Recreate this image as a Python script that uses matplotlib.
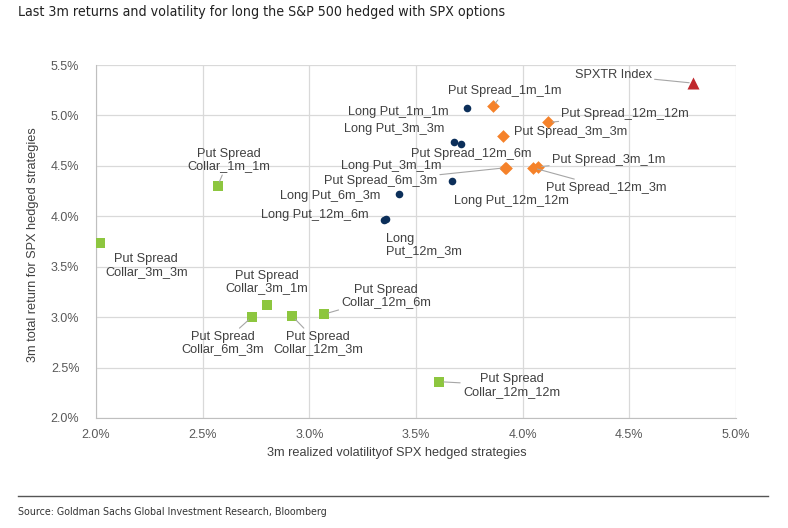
import matplotlib
matplotlib.use('Agg')
import matplotlib.pyplot as plt
from matplotlib import font_manager
from matplotlib.ticker import FuncFormatter

# 3m realized vol (%) and 3m total return (%) per hedged strategy
long_put_names = ['Long Put_1m_1m', 'Long Put_3m_3m', 'Long Put_3m_1m', 'Long Put_12m_12m',
                  'Long Put_6m_3m', 'Long Put_12m_6m', 'Long\nPut_12m_3m']
long_put_vol = [3.74, 3.68, 3.71, 3.67, 3.42, 3.36, 3.35]
long_put_ret = [5.07, 4.74, 4.72, 4.35, 4.22, 3.97, 3.96]

spread_names = ['Put Spread_1m_1m', 'Put Spread_12m_12m', 'Put Spread_3m_3m', 'Put Spread_12m_6m',
                'Put Spread_6m_3m', 'Put Spread_3m_1m', 'Put Spread_12m_3m']
spread_vol = [3.86, 4.12, 3.91, 3.92, 3.915, 4.07, 4.05]
spread_ret = [5.09, 4.93, 4.80, 4.48, 4.48, 4.49, 4.48]

collar_names = ['Put Spread\nCollar_1m_1m', 'Put Spread\nCollar_3m_3m', 'Put Spread\nCollar_3m_1m',
                'Put Spread\nCollar_6m_3m', 'Put Spread\nCollar_12m_3m', 'Put Spread\nCollar_12m_6m',
                'Put Spread\nCollar_12m_12m']
collar_vol = [2.57, 2.02, 2.80, 2.73, 2.92, 3.07, 3.61]
collar_ret = [4.30, 3.74, 3.12, 3.00, 3.01, 3.03, 2.36]

index_names = ['SPXTR Index']
index_vol = [4.80]
index_ret = [5.32]

# label offsets (pixels) and whether a leader line is drawn
long_put_off = [(-69, -4), (-60, 13), (-70, -22), (59, -20), (-69, -2), (-71, 4), (2, -25)]
long_put_lead = [False] * 7
spread_off = [(12, 15), (77, 8), (67, 4), (-34, 14), (-124, -13), (71, 7), (73, -20)]
spread_lead = [True, True, False, False, True, True, True]
collar_off = [(11, 26), (46, -23), (0, 23), (-29, -26), (26, -27), (62, 18), (72, -4)]
collar_lead = [True, False, False, True, True, True, True]
index_off = [(-80, 8)]
index_lead = [True]

txt_col = '#404040'
font = ['Liberation Sans', 'DejaVu Sans']
plt.rcParams['font.family'] = font

# condensed face for title / source, whatever is installed
installed = {(f.name, f.stretch) for f in font_manager.fontManager.ttflist}
names = {n for n, _ in installed}
if 'Liberation Sans Narrow' in names:
    narrow = dict(family=['Liberation Sans Narrow', 'DejaVu Sans'])
elif ('DejaVu Sans', 'condensed') in installed or ('DejaVu Sans', 'semi-condensed') in installed:
    narrow = dict(family=['DejaVu Sans'], fontstretch='condensed')
else:
    narrow = dict(family=font)

fig = plt.figure(figsize=(7.88, 5.28), dpi=100)
ax = fig.add_axes([96 / 788, 1 - 418 / 528, 640 / 788, 353 / 528])

ax.scatter(long_put_vol, long_put_ret, marker='o', s=30, color='#0c2f5a', zorder=3, linewidths=0)
ax.scatter(spread_vol, spread_ret, marker='D', s=42, color='#f5822a', zorder=3, linewidths=0)
ax.scatter(collar_vol, collar_ret, marker='s', s=62, color='#8dc63f', zorder=3, linewidths=0)
ax.scatter(index_vol, index_ret, marker='^', s=75, color='#c0282d', zorder=3, linewidths=0)


def label(names, xs, ys, offs, leads):
    for n, x, y, o, lead in zip(names, xs, ys, offs, leads):
        ha = 'left' if n.startswith('Long\n') else 'center'
        ap = dict(arrowstyle='-', color='#a6a6a6', lw=0.8, shrinkA=0, shrinkB=3) if lead else None
        ax.annotate(n, (x, y), xytext=o, textcoords='offset pixels', ha=ha, va='center',
                    multialignment='left' if ha == 'left' else 'center',
                    fontsize=9.2, color=txt_col, arrowprops=ap, linespacing=1.05, zorder=4)


label(long_put_names, long_put_vol, long_put_ret, long_put_off, long_put_lead)
label(spread_names, spread_vol, spread_ret, spread_off, spread_lead)
label(collar_names, collar_vol, collar_ret, collar_off, collar_lead)
label(index_names, index_vol, index_ret, index_off, index_lead)

ax.set_xlim(2.0, 5.0)
ax.set_ylim(2.0, 5.5)
ax.set_xticks([2.0, 2.5, 3.0, 3.5, 4.0, 4.5, 5.0])
ax.set_yticks([2.0, 2.5, 3.0, 3.5, 4.0, 4.5, 5.0, 5.5])
pct = FuncFormatter(lambda v, p: '%.1f%%' % v)
ax.xaxis.set_major_formatter(pct)
ax.yaxis.set_major_formatter(pct)
ax.tick_params(length=0, labelsize=9, labelcolor='#595959')
ax.tick_params(axis='y', pad=12)
ax.tick_params(axis='x', pad=8)
ax.grid(True, color='#d9d9d9', lw=0.9)
ax.set_axisbelow(True)
for s in ['top', 'right']:
    ax.spines[s].set_visible(False)
for s in ['left', 'bottom']:
    ax.spines[s].set_color('#bfbfbf')

ax.set_xlabel('3m realized volatilityof SPX hedged strategies', fontsize=9.2, color=txt_col)
ax.xaxis.set_label_coords((397 - 96) / 640, -(453 - 418) / 353)
ax.xaxis.label.set_va('center')
ax.set_ylabel('3m total return for SPX hedged strategies', fontsize=9.2, color=txt_col)
ax.yaxis.set_label_coords(-(96 - 33) / 640, (418 - 245) / 353)
ax.yaxis.label.set_va('center')

fig.text(18 / 788, 1 - 12 / 528, 'Last 3m returns and volatility for long the S&P 500 hedged with SPX options',
         fontsize=10.2, color='#222222', va='center', ha='left', **narrow)
fig.add_artist(plt.Line2D([18 / 788, 768 / 788], [1 - 496 / 528] * 2, color='#555555', lw=1))
fig.text(18 / 788, 1 - 512 / 528, 'Source: Goldman Sachs Global Investment Research, Bloomberg',
         fontsize=7.7, color='#333333', va='center', ha='left', **narrow)

fig.savefig('out.png', dpi=100)
